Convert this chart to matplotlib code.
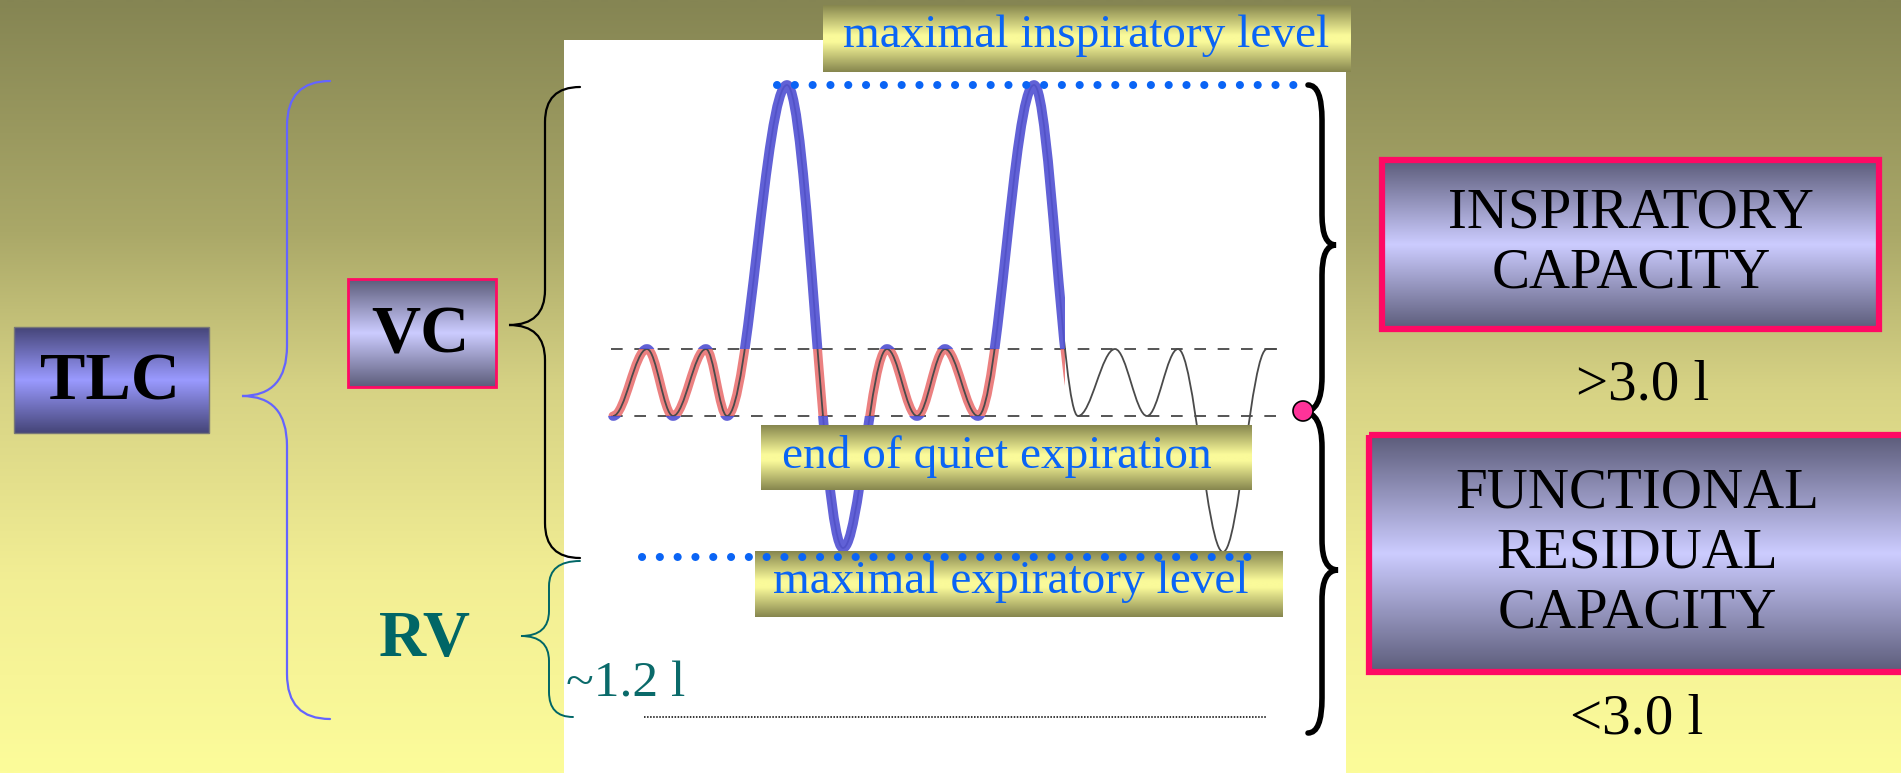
import numpy as np
import matplotlib.pyplot as plt
from matplotlib.patches import Rectangle, PathPatch, Circle
from matplotlib.path import Path

W, H = 1901, 773

# spirogram turning points: x along the trace, y = lung volume level (px)
turn_x = [613, 647, 673, 706, 727, 787, 843, 887, 917, 945, 978, 1034,
          1078, 1115, 1147, 1178, 1223, 1267, 1277]
turn_y = [416, 349, 416, 349, 416, 85, 548, 349, 416, 349, 416, 85,
          416, 349, 416, 349, 552, 349, 349]

# volume levels
level_max_insp = 85
level_end_insp = 349
level_end_exp = 416
level_max_exp = 557
level_zero = 717

# highlighted part of trace ends here, grey afterwards
highlight_end = 1065

level_labels = ["maximal inspiratory level", "end of quiet expiration",
                "maximal expiratory level"]
ic_text = "INSPIRATORY\nCAPACITY"
frc_text = "FUNCTIONAL\nRESIDUAL\nCAPACITY"
ic_value = ">3.0 l"
frc_value = "<3.0 l"
rv_value = "~1.2 l"

SERIF = "Liberation Serif"
BLUE_TXT = "#0a64f5"
PINK = "#ff0a64"


def hexrgb(h):
    h = h.lstrip('#')
    return np.array([int(h[i:i + 2], 16) / 255 for i in (0, 2, 4)])


def vgrad(ax, x0, y0, x1, y1, stops, colors, z):
    t = np.linspace(0, 1, 256)
    cols = np.array([hexrgb(c) for c in colors])
    img = np.stack([np.interp(t, stops, cols[:, k]) for k in range(3)], axis=1)
    ax.imshow(img[:, None, :], extent=(x0, x1, y1, y0), aspect='auto',
              zorder=z, interpolation='bilinear')


def brace(ax, xs, y0, y1, xtip, ytip, xe0, xe1, r, rt, color, lw, z=5):
    verts = [(xe0, y0), (xs, y0), (xs, y0 + r),
             (xs, ytip - rt), (xs, ytip), (xtip, ytip),
             (xs, ytip), (xs, ytip + rt),
             (xs, y1 - r), (xs, y1), (xe1, y1)]
    codes = [Path.MOVETO, Path.CURVE3, Path.CURVE3,
             Path.LINETO, Path.CURVE3, Path.CURVE3,
             Path.CURVE3, Path.CURVE3,
             Path.LINETO, Path.CURVE3, Path.CURVE3]
    ax.add_patch(PathPatch(Path(verts, codes), fill=False, ec=color, lw=lw,
                           zorder=z, capstyle='round'))


def trace_path():
    k = 0.36
    verts = [(turn_x[0], turn_y[0])]
    codes = [Path.MOVETO]
    for i in range(1, len(turn_x)):
        x0, y0 = turn_x[i - 1], turn_y[i - 1]
        x1, y1 = turn_x[i], turn_y[i]
        dx = x1 - x0
        verts += [(x0 + k * dx, y0), (x1 - k * dx, y1), (x1, y1)]
        codes += [Path.CURVE4] * 3
    return Path(verts, codes)


fig = plt.figure(figsize=(19.01, 7.73), dpi=100)
ax = fig.add_axes([0, 0, 1, 1])

# background
vgrad(ax, 0, 0, W, H, [0, 0.3, 0.5, 0.75, 1],
      ["#858553", "#aaa868", "#d6d284", "#f2ee94", "#fcfc9a"], 0)
ax.add_patch(Rectangle((564, 40), 1346 - 564, H - 40, fc='white', ec='none', zorder=1))

# quiet breathing band
for lvl in (level_end_insp, level_end_exp):
    ax.plot([611, 1279], [lvl, lvl], color='#555555', lw=1.4,
            ls=(0, (6, 6)), zorder=2)

# spirogram
path = trace_path()
red = PathPatch(path, fill=False, ec='#e86a6a', lw=6.5, alpha=0.85, zorder=2,
                capstyle='round', joinstyle='round')
ax.add_patch(red)
red.set_clip_path(Rectangle((600, level_end_insp), highlight_end - 600,
                            level_end_exp - level_end_insp, transform=ax.transData))
ax.add_patch(PathPatch(path, fill=False, ec='#4a4a4a', lw=1.3, zorder=3))
blue_clip = Path([(600, 0), (highlight_end, 0), (highlight_end, level_end_insp),
                  (600, level_end_insp), (600, 0),
                  (600, level_end_exp), (highlight_end, level_end_exp),
                  (highlight_end, H), (600, H), (600, level_end_exp)],
                 [1, 2, 2, 2, 79, 1, 2, 2, 2, 79])
blue = PathPatch(path, fill=False, ec='#5353d3', lw=7, alpha=0.92, zorder=4,
                 capstyle='round', joinstyle='round')
ax.add_patch(blue)
blue.set_clip_path(blue_clip, ax.transData)

# level lines
ax.plot([777, 1310], [level_max_insp] * 2, color='#0a64f5', lw=5.8,
        ls=(0, (0.01, 2.2)), dash_capstyle='round', zorder=8)
ax.plot([642, 1259], [level_max_exp] * 2, color='#0a64f5', lw=5.8,
        ls=(0, (0.01, 2.2)), dash_capstyle='round', zorder=8)
ax.plot([644, 1267], [level_zero] * 2, color='black', lw=1.1,
        ls=(0, (1, 1)), zorder=8)

# olive label boxes
olive_stops = [0, 0.45, 0.55, 1]
olive_cols = ["#86864e", "#fafa9a", "#fafa9a", "#86864e"]
boxes = [(823, 5, 1351, 72), (761, 425, 1252, 490), (755, 551, 1283, 617)]
text_pos = [(1086, 36, 'center'), (782, 456, 'left'), (1011, 582, 'center')]
for (x0, y0, x1, y1), lab, (tx, ty, ha) in zip(boxes, level_labels, text_pos):
    vgrad(ax, x0, y0, x1, y1, olive_stops, olive_cols, 6)
    ax.text(tx, ty, lab, ha=ha, va='center', fontsize=34, family=SERIF,
            color=BLUE_TXT, zorder=10)

# left boxes
vgrad(ax, 14, 327, 209, 433, [0, 0.5, 1], ["#454578", "#9a9aff", "#454578"], 6)
ax.add_patch(Rectangle((14, 327), 195, 106, fill=False, ec='#777777', lw=1, zorder=7))
ax.text(110, 383, "TLC", ha='center', va='center', fontsize=49, family=SERIF,
        weight='bold', zorder=10)

vgrad(ax, 348, 279, 496, 387, [0, 0.5, 1], ["#5c5c7a", "#ccccff", "#5c5c7a"], 6)
ax.add_patch(Rectangle((348, 279), 148, 108, fill=False, ec=PINK, lw=2, zorder=7))
ax.text(420, 336, "VC", ha='center', va='center', fontsize=49, family=SERIF,
        weight='bold', zorder=10)

ax.text(425, 640, "RV", ha='center', va='center', fontsize=47, family=SERIF,
        weight='bold', color='#006666', zorder=10)
ax.text(566, 684, rv_value, ha='left', va='center', fontsize=37, family=SERIF,
        color='#0a6a6a', zorder=10)

# braces
brace(ax, 287, 81, 719, 242, 396, 330, 330, 45, 50, '#6464ff', 1.6)
brace(ax, 545, 87, 558, 509, 325, 580, 580, 35, 35, 'black', 1.6)
brace(ax, 549, 561, 717, 521, 636, 580, 573, 25, 25, '#006666', 1.4)
brace(ax, 1322, 85, 412, 1336, 245, 1308, 1303, 35, 30, 'black', 4)
brace(ax, 1322, 412, 733, 1338, 570, 1303, 1308, 35, 30, 'black', 4)
ax.add_patch(Circle((1303, 411), 10, fc='#ff3399', ec='black', lw=1.2, zorder=9))

# right boxes
vgrad(ax, 1382, 160, 1879, 329, [0, 0.5, 1], ["#5c5c7a", "#ccccff", "#5c5c7a"], 6)
ax.add_patch(Rectangle((1382, 160), 497, 169, fill=False, ec=PINK, lw=4.5, zorder=7))
ax.text(1631, 244, ic_text, ha='center', va='center', fontsize=41, family=SERIF,
        linespacing=1.2, zorder=10)
ax.text(1643, 386, ic_value, ha='center', va='center', fontsize=41, family=SERIF,
        zorder=10)

vgrad(ax, 1369, 435, W, 672, [0, 0.5, 1], ["#5c5c7a", "#ccccff", "#5c5c7a"], 6)
ax.add_patch(Rectangle((1369, 435), W - 1366, 237, fill=False, ec=PINK, lw=4.5, zorder=7))
ax.text(1637, 554, frc_text, ha='center', va='center', fontsize=41, family=SERIF,
        linespacing=1.2, zorder=10)
ax.text(1637, 720, frc_value, ha='center', va='center', fontsize=41, family=SERIF,
        zorder=10)

ax.set_xlim(0, W)
ax.set_ylim(H, 0)
ax.axis('off')
fig.savefig("out.png", dpi=100)
